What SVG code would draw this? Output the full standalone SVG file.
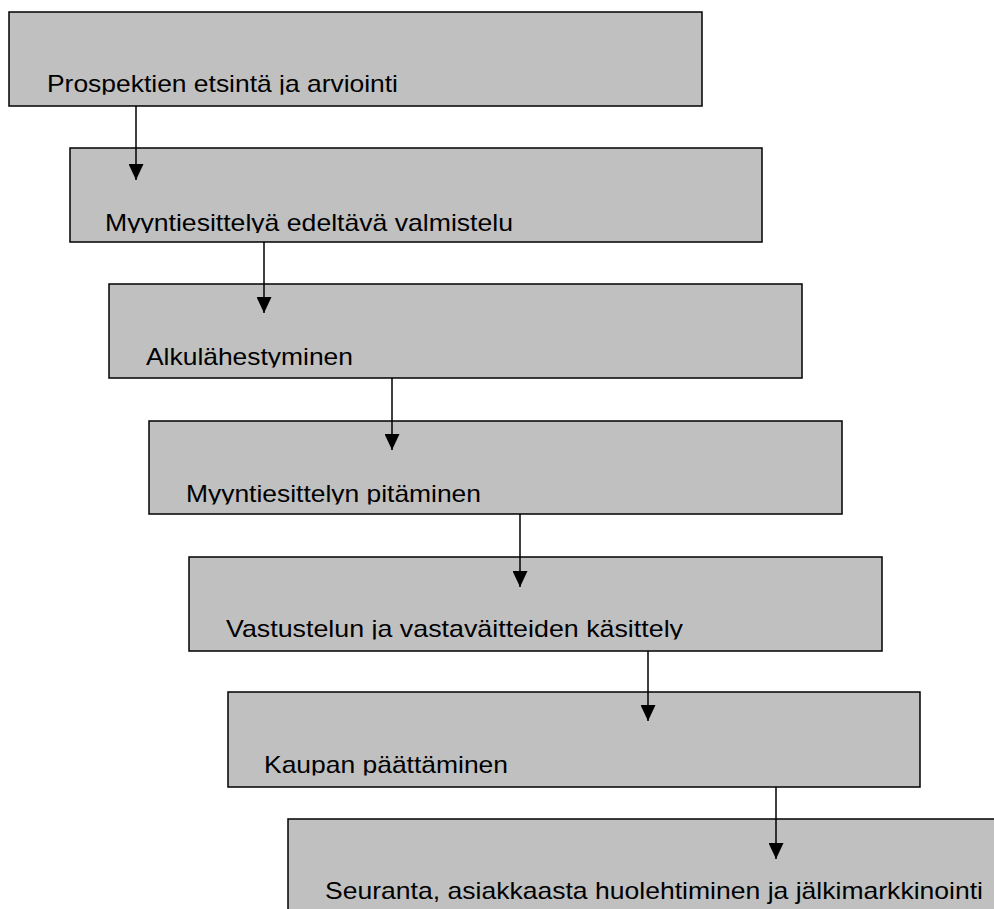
<svg xmlns="http://www.w3.org/2000/svg" width="994" height="909" viewBox="0 0 994 909">
<style>
.box{fill:#c0c0c0;stroke:#000;stroke-width:1.5}
.lbl{font-family:"Liberation Sans",Arial,sans-serif;font-size:24px;fill:#000}
.conn{stroke:#000;stroke-width:1.5;fill:none}
</style>
<defs>
<marker id="ah" markerUnits="userSpaceOnUse" viewBox="0 0 16 15" refX="16" refY="7.5" markerWidth="16" markerHeight="15" orient="auto">
<path d="M0,0 L16,7.5 L0,15 z" fill="#000"/>
</marker>
<clipPath id="c1"><rect x="9" y="12" width="693" height="82.8"/></clipPath>
<clipPath id="c2"><rect x="70" y="148" width="692" height="85"/></clipPath>
<clipPath id="c3"><rect x="109" y="284" width="693" height="83.5"/></clipPath>
<clipPath id="c4"><rect x="149" y="421" width="693" height="83.5"/></clipPath>
<clipPath id="c5"><rect x="189" y="557" width="693" height="82.5"/></clipPath>
<clipPath id="c6"><rect x="228" y="692" width="692" height="83.5"/></clipPath>
</defs>
<rect width="994" height="909" fill="#fff"/>
<g id="node1">
<rect class="box" x="9" y="12" width="693" height="94"/>
<text class="lbl" x="47" y="92.3" textLength="351" lengthAdjust="spacingAndGlyphs" clip-path="url(#c1)">Prospektien etsintä ja arviointi</text>
</g>
<g id="node2">
<rect class="box" x="70" y="148" width="692" height="94"/>
<text class="lbl" x="105" y="230.5" textLength="408" lengthAdjust="spacingAndGlyphs" clip-path="url(#c2)">Myyntiesittelyä edeltävä valmistelu</text>
</g>
<g id="node3">
<rect class="box" x="109" y="284" width="693" height="94"/>
<text class="lbl" x="146" y="365" textLength="207" lengthAdjust="spacingAndGlyphs" clip-path="url(#c3)">Alkulähestyminen</text>
</g>
<g id="node4">
<rect class="box" x="149" y="421" width="693" height="93"/>
<text class="lbl" x="186" y="502" textLength="295" lengthAdjust="spacingAndGlyphs" clip-path="url(#c4)">Myyntiesittelyn pitäminen</text>
</g>
<g id="node5">
<rect class="box" x="189" y="557" width="693" height="94"/>
<text class="lbl" x="226" y="637" textLength="457" lengthAdjust="spacingAndGlyphs" clip-path="url(#c5)">Vastustelun ja vastaväitteiden käsittely</text>
</g>
<g id="node6">
<rect class="box" x="228" y="692" width="692" height="95"/>
<text class="lbl" x="264" y="773" textLength="244" lengthAdjust="spacingAndGlyphs" clip-path="url(#c6)">Kaupan päättäminen</text>
</g>
<g id="node7">
<rect class="box" x="288" y="819" width="720" height="100"/>
<text class="lbl" x="325" y="899" textLength="658" lengthAdjust="spacingAndGlyphs">Seuranta, asiakkaasta huolehtiminen ja jälkimarkkinointi</text>
</g>
<g id="connectors">
<line class="conn" x1="136" y1="106" x2="136" y2="180" marker-end="url(#ah)"/>
<line class="conn" x1="264" y1="242" x2="264" y2="313" marker-end="url(#ah)"/>
<line class="conn" x1="392" y1="378" x2="392" y2="450" marker-end="url(#ah)"/>
<line class="conn" x1="520" y1="514" x2="520" y2="587" marker-end="url(#ah)"/>
<line class="conn" x1="648" y1="651" x2="648" y2="721" marker-end="url(#ah)"/>
<line class="conn" x1="776" y1="787" x2="776" y2="859" marker-end="url(#ah)"/>
</g>
</svg>
